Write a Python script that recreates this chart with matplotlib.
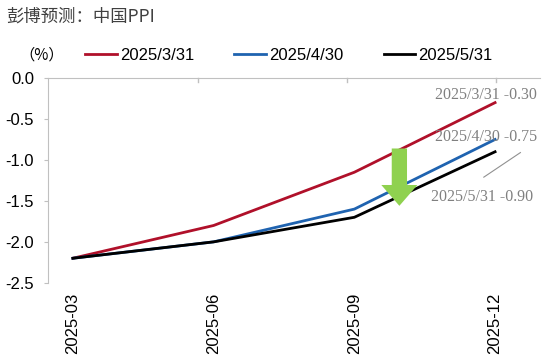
import matplotlib
matplotlib.use('Agg')
import matplotlib.pyplot as plt

plt.rcParams['font.family'] = ['Liberation Sans', 'Noto Sans CJK SC', 'DejaVu Sans']

# data
months = ['2025-03', '2025-06', '2025-09', '2025-12']
series_names = ['2025/3/31', '2025/4/30', '2025/5/31']
ppi_0331 = [-2.2, -1.8, -1.15, -0.30]
ppi_0430 = [-2.2, -2.0, -1.6, -0.75]
ppi_0531 = [-2.2, -2.0, -1.7, -0.90]
colors = ['#b0102a', '#1f63b0', '#000000']

fig = plt.figure(figsize=(5.5, 3.58), dpi=100)
ax = fig.add_axes([0.087, 0.21, 0.895, 0.572])

x = list(range(len(months)))
for vals, name, c in zip([ppi_0331, ppi_0430, ppi_0531], series_names, colors):
    ax.plot(x, vals, color=c, lw=2, label=name)

ax.set_xlim(-0.178, 3.32)
ax.set_ylim(-2.5, 0.0)
ax.set_yticks([0.0, -0.5, -1.0, -1.5, -2.0, -2.5])
ax.set_yticklabels(['0.0', '-0.5', '-1.0', '-1.5', '-2.0', '-2.5'], fontsize=12)
ax.set_xticks(x)
ax.set_xticklabels(months, rotation=90, fontsize=12)
ax.tick_params(axis='x', length=0, pad=7)
ax.tick_params(axis='y', length=3, color='#c0c0c0', direction='out', pad=7)

for s in ['right', 'bottom']:
    ax.spines[s].set_visible(False)
ax.spines['left'].set_color('#c0c0c0')
ax.spines['top'].set_color('#c0c0c0')
# small tick marks on the top axis line
for xt in [0.89, 1.95, 3.01]:
    ax.plot([xt, xt], [0, -0.05], color='#c0c0c0', lw=1, clip_on=False)

# end labels
lab_font = dict(family='Liberation Serif', fontsize=11.5, color='#808080')
ax.text(3.3, ppi_0331[3] + 0.09, '2025/3/31 -0.30', ha='right', va='center', **lab_font)
ax.text(3.3, ppi_0430[3] + 0.03, '2025/4/30 -0.75', ha='right', va='center', **lab_font)
ax.text(3.27, -1.45, '2025/5/31 -0.90', ha='right', va='center', **lab_font)
ax.plot([2.92, 3.18], [-1.21, -0.91], color='#909090', lw=0.8)

# green arrow
ax.annotate('', xy=(2.32, -1.56), xytext=(2.32, -0.86),
            arrowprops=dict(facecolor='#8fd14f', edgecolor='none', width=11,
                            headwidth=26, headlength=15))

fig.text(0.012, 0.955, '彭博预测：中国PPI', fontsize=12.5, color='#404040',
         family=['Noto Sans CJK SC', 'DejaVu Sans'], va='center')
fig.text(0.075, 0.845, '（%）', fontsize=11, family=['Noto Sans CJK SC', 'DejaVu Sans'],
         ha='center', va='center')
ax.legend(loc='center left', bbox_to_anchor=(0.045, 1.11), ncol=3, frameon=False,
          fontsize=12, handlelength=1.9, handletextpad=0.2, columnspacing=2.4)

fig.savefig('out.png', dpi=100)
